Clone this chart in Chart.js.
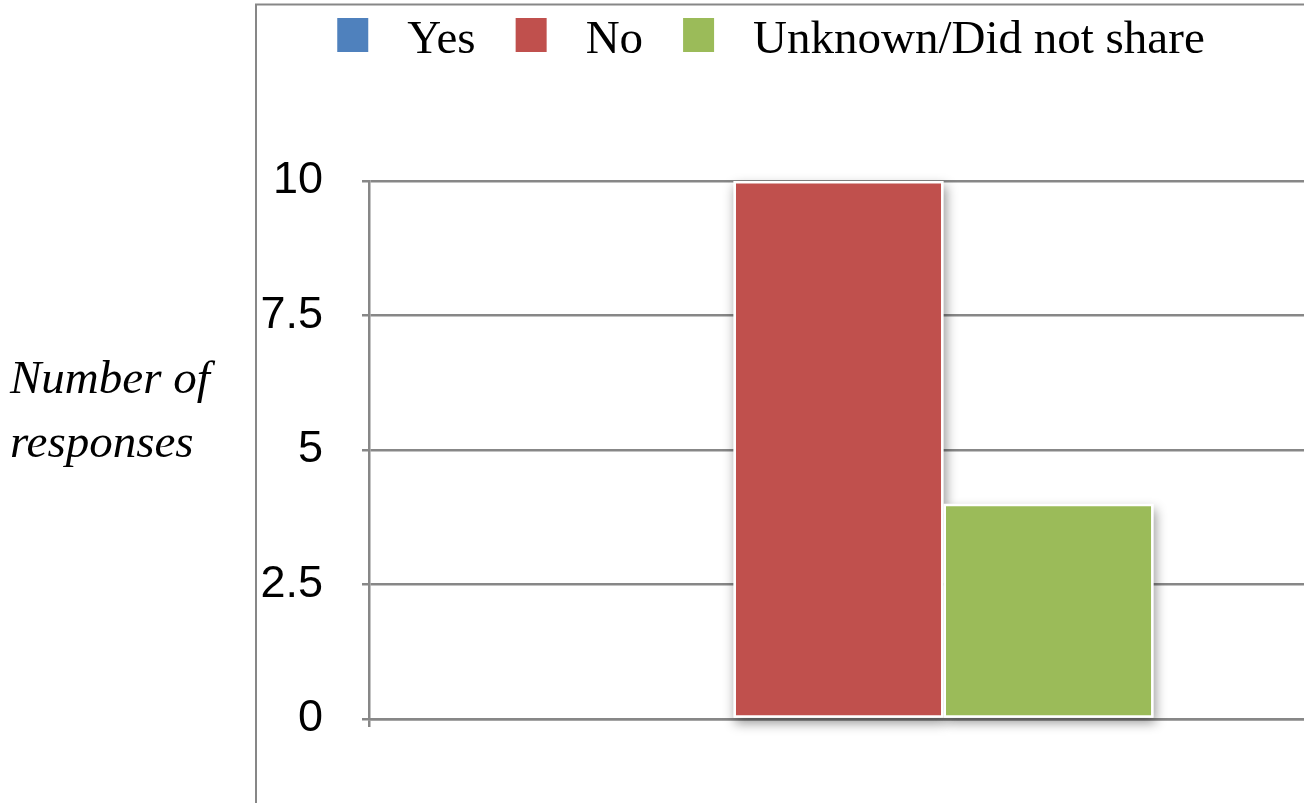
<!DOCTYPE html>
<html>
<head>
<meta charset="utf-8">
<script src="https://cdn.jsdelivr.net/npm/chart.js@4/dist/chart.umd.min.js"></script>
<style>
  html, body { margin: 0; padding: 0; background: #fff; overflow: hidden; }
  #wrap { position: relative; width: 1304px; height: 803px; overflow: hidden; }
  canvas { display: block; }
</style>
</head>
<body>
<div id="wrap"><canvas id="c" width="1320" height="803"></canvas></div>
<script>
// ---- data ----
const categories = [''];
const seriesNames = ['Yes', 'No', 'Unknown/Did not share'];
const yesValues = [0];
const noValues = [10];
const unknownValues = [4];
const yTickValues = [0, 2.5, 5, 7.5, 10];
const yAxisTitleLines = ['Number of', 'responses'];

// ---- styles ----
const seriesColors = ['#4F81BD', '#C0504D', '#9BBB59'];
const gridColor = '#878787';

const framePlugin = {
  id: 'frame',
  beforeDraw(chart) {
    const ctx = chart.ctx;
    ctx.save();
    ctx.strokeStyle = gridColor;
    ctx.lineWidth = 2;
    ctx.beginPath();
    ctx.moveTo(256, chart.height);
    ctx.lineTo(256, 4.5);
    ctx.lineTo(chart.width, 4.5);
    ctx.stroke();
    ctx.restore();
  }
};

const shadowPlugin = {
  id: 'barShadow',
  beforeDatasetsDraw(chart) {
    const ctx = chart.ctx;
    ctx.save();
    ctx.shadowColor = 'rgba(0,0,0,0.42)';
    ctx.shadowBlur = 11;
    ctx.shadowOffsetX = 2;
    ctx.shadowOffsetY = 5;
    ctx.fillStyle = '#ffffff';
    chart.data.datasets.forEach((ds, i) => {
      const meta = chart.getDatasetMeta(i);
      meta.data.forEach(el => {
        const p = el.getProps(['x', 'y', 'base', 'width'], true);
        const h = p.base - p.y;
        if (Math.abs(h) < 0.5) return;
        ctx.fillRect(p.x - p.width / 2, Math.min(p.y, p.base), p.width, Math.abs(h));
      });
    });
    ctx.restore();
  }
};

const LEGEND_CENTER = 771;
const legendPlugin = {
  id: 'customLegend',
  afterDraw(chart) {
    const ctx = chart.ctx;
    ctx.save();
    ctx.font = '47px "Liberation Serif", "Times New Roman", serif';
    const items = chart.data.datasets.map(ds => ({
      text: ds.label, color: ds.backgroundColor, w: ctx.measureText(ds.label).width
    }));
    const BOX_W = 31, BOX_H = 34, GAP_TEXT = 39, GAP_ITEM = 40;
    const total = items.reduce((s, it) => s + BOX_W + GAP_TEXT + it.w, 0) + GAP_ITEM * (items.length - 1);
    let x = LEGEND_CENTER - total / 2;
    ctx.textBaseline = 'alphabetic';
    ctx.textAlign = 'left';
    items.forEach(it => {
      ctx.fillStyle = it.color;
      ctx.fillRect(x, 18, BOX_W, BOX_H);
      x += BOX_W + GAP_TEXT;
      ctx.fillStyle = '#000';
      ctx.fillText(it.text, x, 53);
      x += it.w + GAP_ITEM;
    });
    ctx.restore();
  }
};

const yTitlePlugin = {
  id: 'yTitle',
  afterDraw(chart) {
    const ctx = chart.ctx;
    ctx.save();
    ctx.font = 'italic 47px "Liberation Serif", "Times New Roman", serif';
    ctx.fillStyle = '#000';
    ctx.textBaseline = 'alphabetic';
    ctx.textAlign = 'left';
    yAxisTitleLines.forEach((line, i) => ctx.fillText(line, 10, 393 + i * 64));
    ctx.restore();
  }
};

const datasetValues = [yesValues, noValues, unknownValues];

new Chart(document.getElementById('c'), {
  type: 'bar',
  data: {
    labels: categories,
    datasets: seriesNames.map((name, i) => ({
      label: name,
      data: datasetValues[i],
      backgroundColor: seriesColors[i],
      borderColor: '#ffffff',
      borderWidth: 2.5,
      borderSkipped: false,
      categoryPercentage: 0.671,
      barPercentage: 1.0
    }))
  },
  options: {
    responsive: false,
    animation: false,
    devicePixelRatio: 1,
    layout: { padding: { top: 181, bottom: 76, left: 0, right: 12 } },
    plugins: { legend: { display: false }, tooltip: { enabled: false } },
    scales: {
      x: {
        type: 'category',
        offset: true,
        grid: { display: true, drawOnChartArea: false, drawTicks: true, tickLength: 8, color: gridColor, lineWidth: 2.5 },
        border: { display: true, color: gridColor, width: 2.5 },
        ticks: { display: false }
      },
      y: {
        min: 0,
        max: 10,
        afterBuildTicks(scale) { scale.ticks = yTickValues.map(v => ({ value: v })); },
        afterFit(scale) { scale.width = 369; },
        grid: { color: gridColor, lineWidth: 2.5, drawTicks: true, tickLength: 7 },
        border: { display: true, color: gridColor, width: 2.5 },
        ticks: {
          padding: 39,
          color: '#000',
          font: { family: '"Liberation Sans", Arial, sans-serif', size: 45 },
          callback: (v) => String(v)
        }
      }
    }
  },
  plugins: [framePlugin, shadowPlugin, legendPlugin, yTitlePlugin]
});
</script>
</body>
</html>
